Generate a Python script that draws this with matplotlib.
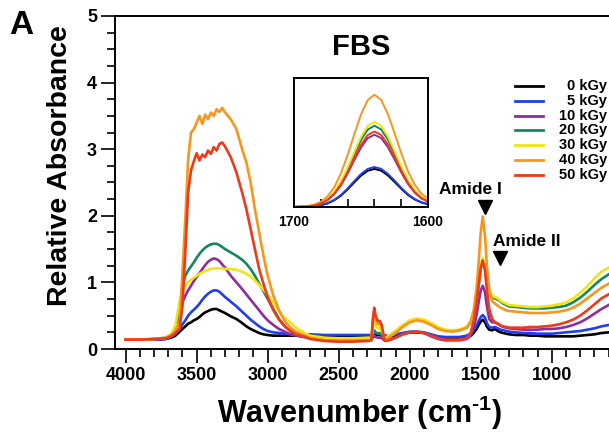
import numpy as np
import matplotlib
matplotlib.use('Agg')
import matplotlib.pyplot as plt
from matplotlib.lines import Line2D
from matplotlib.ticker import MultipleLocator, FixedLocator

plt.rcParams['font.family'] = ['Liberation Sans', 'DejaVu Sans']
plt.rcParams['font.weight'] = 'bold'
plt.rcParams['mathtext.fontset'] = 'custom'
plt.rcParams['mathtext.rm'] = 'Liberation Sans:bold'
plt.rcParams['mathtext.it'] = 'Liberation Sans:bold'
plt.rcParams['mathtext.bf'] = 'Liberation Sans:bold'

# FTIR spectra of irradiated FBS (relative absorbance vs wavenumber)
wavenumber = [4000, 3900, 3800, 3720, 3680, 3650, 3620,
              3600, 3580, 3560, 3540, 3520, 3500, 3480, 3460, 3440, 3420, 3400, 3380, 3360, 3340, 3320, 3300,
              3260, 3220, 3180, 3150, 3120, 3090, 3060, 3030, 3000, 2960, 2920, 2880, 2840, 2800,
              2750, 2700, 2600, 2500, 2400, 2300,
              2270, 2260, 2250, 2240, 2225, 2210, 2195, 2180, 2170,
              2150, 2100, 2050, 2000, 1950, 1900, 1850, 1800, 1750, 1700,
              1650, 1600, 1570, 1550, 1530, 1515, 1500, 1486, 1470, 1455, 1440, 1420, 1400, 1380, 1360, 1340, 1320, 1300,
              1250, 1200, 1150, 1100, 1050, 1000, 950, 900, 850, 800, 750, 700, 650, 600]

abs_0 = [0.14, 0.14, 0.14, 0.15, 0.17, 0.20, 0.26,
         0.30, 0.34, 0.38, 0.40, 0.43, 0.45, 0.48, 0.52, 0.55, 0.57, 0.59, 0.60, 0.60, 0.58, 0.56, 0.54,
         0.49, 0.45, 0.39, 0.34, 0.30, 0.27, 0.24, 0.22, 0.21, 0.20, 0.20, 0.20, 0.20, 0.20,
         0.20, 0.20, 0.20, 0.20, 0.20, 0.19,
         0.19, 0.21, 0.23, 0.22, 0.21, 0.21, 0.20, 0.18, 0.18,
         0.18, 0.20, 0.23, 0.25, 0.25, 0.24, 0.21, 0.18, 0.17, 0.16,
         0.16, 0.18, 0.20, 0.24, 0.30, 0.36, 0.41, 0.44, 0.40, 0.33, 0.29, 0.28, 0.30, 0.27, 0.25, 0.24, 0.23, 0.22,
         0.21, 0.21, 0.20, 0.20, 0.19, 0.19, 0.19, 0.19, 0.19, 0.20, 0.21, 0.22, 0.24, 0.25]

abs_5 = [0.14, 0.14, 0.14, 0.15, 0.18, 0.22, 0.30,
         0.37, 0.43, 0.50, 0.55, 0.59, 0.63, 0.68, 0.74, 0.79, 0.83, 0.86, 0.88, 0.88, 0.86, 0.82, 0.78,
         0.71, 0.64, 0.56, 0.50, 0.44, 0.39, 0.34, 0.30, 0.27, 0.25, 0.24, 0.23, 0.22, 0.22,
         0.22, 0.22, 0.21, 0.21, 0.21, 0.21,
         0.21, 0.23, 0.25, 0.24, 0.23, 0.23, 0.22, 0.21, 0.20,
         0.20, 0.22, 0.24, 0.26, 0.26, 0.25, 0.22, 0.19, 0.18, 0.18,
         0.18, 0.20, 0.23, 0.28, 0.35, 0.42, 0.48, 0.51, 0.47, 0.38, 0.33, 0.32, 0.33, 0.31, 0.29, 0.28, 0.27, 0.26,
         0.25, 0.24, 0.24, 0.23, 0.23, 0.23, 0.24, 0.25, 0.26, 0.27, 0.29, 0.31, 0.34, 0.36]

abs_10 = [0.14, 0.14, 0.14, 0.16, 0.20, 0.27, 0.45,
          0.70, 0.80, 0.88, 0.95, 1.02, 1.08, 1.14, 1.20, 1.26, 1.31, 1.34, 1.36, 1.35, 1.32, 1.27, 1.22,
          1.10, 1.00, 0.90, 0.82, 0.74, 0.66, 0.58, 0.50, 0.43, 0.36, 0.30, 0.26, 0.22, 0.20,
          0.18, 0.16, 0.15, 0.14, 0.14, 0.14,
          0.14, 0.17, 0.20, 0.18, 0.17, 0.17, 0.16, 0.13, 0.13,
          0.13, 0.17, 0.22, 0.25, 0.26, 0.24, 0.19, 0.15, 0.13, 0.13,
          0.13, 0.15, 0.20, 0.32, 0.50, 0.70, 0.88, 0.95, 0.85, 0.62, 0.45, 0.40, 0.40, 0.38, 0.35, 0.33, 0.32, 0.31,
          0.30, 0.29, 0.29, 0.29, 0.30, 0.30, 0.31, 0.33, 0.36, 0.40, 0.46, 0.53, 0.60, 0.66]

abs_20 = [0.14, 0.14, 0.15, 0.17, 0.22, 0.30, 0.55,
          0.95, 1.10, 1.18, 1.24, 1.30, 1.37, 1.43, 1.48, 1.52, 1.55, 1.57, 1.58, 1.58, 1.56, 1.53, 1.50,
          1.45, 1.40, 1.34, 1.28, 1.20, 1.10, 0.98, 0.87, 0.75, 0.60, 0.45, 0.34, 0.27, 0.22,
          0.19, 0.17, 0.15, 0.14, 0.14, 0.15,
          0.15, 0.22, 0.28, 0.25, 0.23, 0.24, 0.21, 0.16, 0.16,
          0.19, 0.26, 0.35, 0.42, 0.45, 0.43, 0.38, 0.32, 0.28, 0.27,
          0.28, 0.32, 0.39, 0.50, 0.70, 0.95, 1.20, 1.32, 1.20, 0.97, 0.83, 0.78, 0.76, 0.74, 0.71, 0.68, 0.66, 0.64,
          0.63, 0.62, 0.61, 0.61, 0.61, 0.62, 0.63, 0.65, 0.70, 0.77, 0.86, 0.96, 1.05, 1.12]

abs_30 = [0.14, 0.14, 0.15, 0.17, 0.22, 0.35, 0.72,
          0.88, 0.95, 1.00, 1.04, 1.07, 1.10, 1.13, 1.15, 1.17, 1.19, 1.20, 1.21, 1.21, 1.21, 1.21, 1.20,
          1.20, 1.19, 1.16, 1.13, 1.09, 1.03, 0.96, 0.89, 0.81, 0.70, 0.56, 0.47, 0.40, 0.32,
          0.25, 0.20, 0.17, 0.16, 0.16, 0.17,
          0.17, 0.30, 0.42, 0.36, 0.31, 0.32, 0.27, 0.17, 0.17,
          0.20, 0.27, 0.36, 0.43, 0.46, 0.44, 0.39, 0.33, 0.29, 0.28,
          0.29, 0.33, 0.40, 0.52, 0.72, 0.98, 1.25, 1.37, 1.25, 1.00, 0.85, 0.80, 0.78, 0.76, 0.72, 0.70, 0.68, 0.66,
          0.65, 0.64, 0.63, 0.63, 0.64, 0.65, 0.67, 0.70, 0.76, 0.84, 0.94, 1.06, 1.16, 1.22]

abs_40 = [0.14, 0.14, 0.15, 0.16, 0.20, 0.28, 0.40,
          1.15, 1.95, 2.85, 3.25, 3.30, 3.40, 3.50, 3.38, 3.52, 3.45, 3.55, 3.50, 3.60, 3.56, 3.62, 3.55,
          3.45, 3.30, 3.00, 2.80, 2.50, 2.10, 1.75, 1.40, 1.10, 0.80, 0.58, 0.42, 0.32, 0.26,
          0.21, 0.17, 0.13, 0.12, 0.12, 0.13,
          0.13, 0.38, 0.53, 0.44, 0.37, 0.38, 0.30, 0.14, 0.13,
          0.17, 0.24, 0.33, 0.40, 0.43, 0.41, 0.36, 0.30, 0.27, 0.26,
          0.28, 0.32, 0.42, 0.58, 0.90, 1.30, 1.75, 1.99, 1.70, 1.20, 0.90, 0.72, 0.68, 0.65, 0.62, 0.60, 0.58, 0.57,
          0.56, 0.55, 0.54, 0.54, 0.54, 0.55, 0.56, 0.58, 0.62, 0.68, 0.76, 0.84, 0.92, 0.98]

abs_50 = [0.14, 0.14, 0.15, 0.16, 0.19, 0.24, 0.30,
          0.65, 1.45, 2.35, 2.68, 2.82, 2.94, 2.83, 2.92, 2.88, 2.98, 2.93, 3.03, 2.98, 3.08, 3.10, 3.04,
          2.88, 2.65, 2.35, 2.10, 1.80, 1.50, 1.20, 0.98, 0.78, 0.58, 0.44, 0.34, 0.27, 0.22,
          0.19, 0.15, 0.12, 0.11, 0.11, 0.12,
          0.13, 0.45, 0.62, 0.50, 0.42, 0.42, 0.35, 0.14, 0.12,
          0.13, 0.17, 0.22, 0.25, 0.26, 0.24, 0.20, 0.16, 0.14, 0.14,
          0.14, 0.16, 0.25, 0.42, 0.68, 0.95, 1.22, 1.33, 1.18, 0.85, 0.60, 0.45, 0.40, 0.38, 0.35, 0.34, 0.33, 0.32,
          0.32, 0.32, 0.33, 0.33, 0.34, 0.35, 0.37, 0.40, 0.44, 0.50, 0.58, 0.67, 0.76, 0.82]

# amide I band close-up (1700-1600 cm-1)
inset_wn = [1700, 1695, 1690, 1685, 1680, 1675, 1670, 1665, 1660, 1655, 1650,
            1645, 1640, 1635, 1630, 1625, 1620, 1615, 1610, 1605, 1600]
inset_0 = [0.000, 0.001, 0.002, 0.006, 0.014, 0.028, 0.052, 0.088, 0.136, 0.191, 0.243,
           0.281, 0.295, 0.282, 0.245, 0.195, 0.142, 0.094, 0.059, 0.035, 0.022]
inset_5 = [0.000, 0.001, 0.002, 0.006, 0.014, 0.029, 0.055, 0.093, 0.143, 0.201, 0.255,
           0.295, 0.310, 0.296, 0.257, 0.205, 0.149, 0.099, 0.062, 0.037, 0.023]
inset_10 = [0.001, 0.002, 0.004, 0.011, 0.026, 0.053, 0.099, 0.167, 0.259, 0.363, 0.461,
            0.534, 0.560, 0.535, 0.465, 0.370, 0.269, 0.179, 0.112, 0.067, 0.042]
inset_20 = [0.001, 0.002, 0.005, 0.013, 0.029, 0.059, 0.111, 0.188, 0.291, 0.408, 0.519,
            0.600, 0.630, 0.602, 0.523, 0.416, 0.302, 0.202, 0.126, 0.076, 0.047]
inset_30 = [0.001, 0.002, 0.005, 0.013, 0.030, 0.062, 0.116, 0.197, 0.305, 0.428, 0.544,
            0.629, 0.660, 0.630, 0.548, 0.436, 0.317, 0.211, 0.132, 0.079, 0.050]
inset_40 = [0.001, 0.003, 0.007, 0.017, 0.040, 0.082, 0.153, 0.260, 0.402, 0.564, 0.717,
            0.829, 0.870, 0.831, 0.722, 0.574, 0.418, 0.278, 0.174, 0.104, 0.065]
inset_50 = [0.001, 0.002, 0.005, 0.012, 0.027, 0.055, 0.103, 0.175, 0.270, 0.379, 0.482,
            0.558, 0.585, 0.559, 0.486, 0.386, 0.281, 0.187, 0.117, 0.070, 0.044]

doses = ['0 kGy', '5 kGy', '10 kGy', '20 kGy', '30 kGy', '40 kGy', '50 kGy']
colors = ['#000000', '#1e3ef0', '#8e2ca2', '#14875c', '#f2e414', '#f7961e', '#ec3a1a']
spectra = [abs_0, abs_5, abs_10, abs_20, abs_30, abs_40, abs_50]
inset_spectra = [inset_0, inset_5, inset_10, inset_20, inset_30, inset_40, inset_50]

# band markers: arrow tip position and label position
amide_labels = ['Amide I', 'Amide II']
amide_arrow_x = [1473, 1364]
amide_arrow_y = [2.13, 1.36]
amide_text_x = [1575, 1176]
amide_text_y = [2.40, 1.62]

W, H = 609, 442
fig = plt.figure(figsize=(W / 100, H / 100), dpi=100)
ax = fig.add_axes([115 / W, 1 - 349 / H, 494 / W, 333 / H])

for y, c in zip(spectra, colors):
    ax.plot(wavenumber, y, color=c, lw=1.9, solid_joinstyle='round')

ax.set_xlim(4075, 597)
ax.set_ylim(0, 5)
ax.xaxis.set_major_locator(MultipleLocator(500))
ax.xaxis.set_minor_locator(MultipleLocator(100))
ax.yaxis.set_major_locator(MultipleLocator(1))
ax.yaxis.set_minor_locator(MultipleLocator(0.25))
ax.tick_params(which='major', direction='out', length=10, width=1.2, labelsize=13, pad=3)
ax.tick_params(which='minor', direction='out', length=6, width=1.2)
ax.tick_params(top=False, right=False, which='both')
for s in ['left', 'bottom', 'top']:
    ax.spines[s].set_linewidth(1.4)
ax.spines['right'].set_visible(False)

ax.set_xlabel(r'Wavenumber (cm$^{\text{-1}}$)', fontsize=22, fontweight='bold')
ax.xaxis.set_label_coords(0.494, -0.135)
ax.set_ylabel('Relative Absorbance', fontsize=20.5, fontweight='bold')
ax.yaxis.set_label_coords(-0.085, 0.55)

for lab, xa, ya, xt, yt in zip(amide_labels, amide_arrow_x, amide_arrow_y, amide_text_x, amide_text_y):
    ax.plot(xa, ya, marker='v', ms=10, color='black', clip_on=False)
    ax.text(xt, yt, lab, fontsize=12.5, fontweight='bold', ha='center', va='center')

fig.text(361 / W, 1 - 47 / H, 'FBS', fontsize=21, fontweight='bold', ha='center', va='center')
fig.text(21 / W, 1 - 25 / H, 'A', fontsize=24, fontweight='bold', ha='center', va='center')

# legend drawn by hand so the dose labels are right-aligned
for i, (lab, c) in enumerate(zip(doses, colors)):
    yy = 1 - (86 + 14.8 * i) / H
    fig.add_artist(Line2D([515 / W, 543 / W], [yy, yy], color=c, lw=2.0))
    fig.text(607 / W, yy, lab, fontsize=10.5, fontweight='bold', ha='right', va='center')

# inset: amide I close-up
axin = fig.add_axes([294 / W, 1 - 207 / H, 134 / W, 129 / H])
for y, c in zip(inset_spectra, colors):
    axin.plot(inset_wn, y, color=c, lw=1.4)
axin.set_xlim(1700, 1600)
axin.set_ylim(0, 1.0)
axin.xaxis.set_major_locator(FixedLocator([1700, 1600]))
axin.xaxis.set_minor_locator(FixedLocator([1680, 1660, 1640, 1620]))
axin.tick_params(which='both', direction='in', length=5.5, width=1.2, labelsize=10, pad=6)
axin.set_yticks([])
for s in axin.spines.values():
    s.set_linewidth(1.4)

fig.savefig('out.png', dpi=100)
